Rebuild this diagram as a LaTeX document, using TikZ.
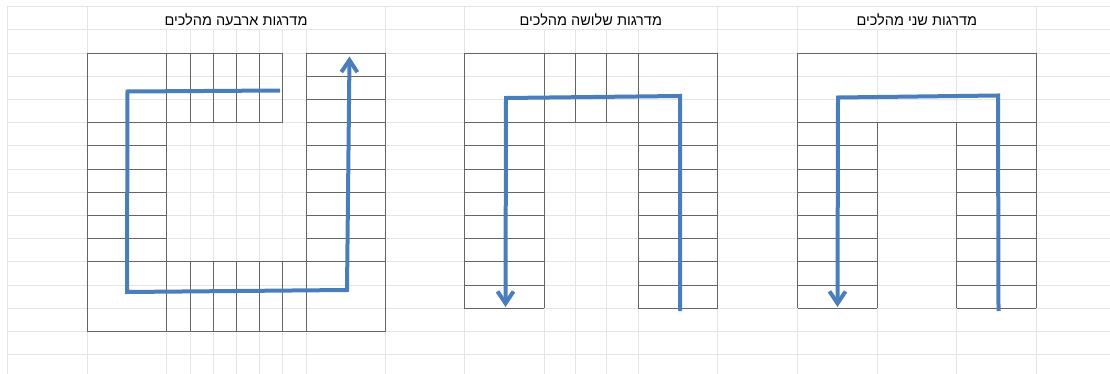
\documentclass[tikz,border=0pt]{standalone}
\usepackage{fontspec}
\newfontfamily\hebfont[Script=Hebrew]{Liberation Sans}
\TeXXeTstate=1
\usetikzlibrary{arrows.meta}
\definecolor{gridc}{RGB}{228,228,228}
\definecolor{cellc}{RGB}{100,100,100}
\definecolor{pathc}{RGB}{74,126,187}

\begin{document}
\begin{tikzpicture}[x=1pt,y=-1pt,
  faint/.style={draw=gridc,line width=0.8pt},
  cell/.style={draw=cellc,line width=0.9pt},
  route/.style={draw=pathc,line width=4pt,line join=miter},
  tip/.style={-{Straight Barb[length=12pt,width=16pt]}},
  title/.style={font=\hebfont\fontsize{14.5}{17}\selectfont,anchor=base,inner sep=0pt}]
\fill[white] (0,0) rectangle (1110,374);
\useasboundingbox (0,0) rectangle (1110,374);
% spreadsheet grid
\foreach \x in {7,87,166,190,213,236,259,282.5,306,385,464,544,575,606.5,638,717.5,797.5,877,956.5,1036}
  \draw[faint] (\x,6.6) -- (\x,374);
\foreach \k in {0,...,15}
  \draw[faint] (7,6.6+23.2*\k) -- (1110,6.6+23.2*\k);
% merged title cells
\fill[white] (87.5,7.1) rectangle (384.5,29.4);
\fill[white] (464.5,7.1) rectangle (717,29.4);
\fill[white] (798,7.1) rectangle (1035.5,29.4);
\node[title] (t4) at (236,25.8) {\beginR מדרגות ארבעה מהלכים\endR};
\node[title] (t3) at (590.8,25.8) {\beginR מדרגות שלושה מהלכים\endR};
\node[title] (t2) at (916.8,25.8) {\beginR מדרגות שני מהלכים\endR};

% ---- four flights ----
\draw[cell] (87,53) -- (282.5,53) (306,53) -- (385,53);
\draw[cell] (87,53) -- (87,331.4) -- (385,331.4) -- (385,53);
\foreach \x in {166,306} \draw[cell] (\x,53) -- (\x,331.4);
\foreach \x in {190,213,236,259,282.5} {
  \draw[cell] (\x,53) -- (\x,122.6);
  \draw[cell] (\x,261.8) -- (\x,331.4);
}
\draw[cell] (87,122.6) -- (282.5,122.6);
\foreach \y in {76.2,99.4,122.6} \draw[cell] (306,\y) -- (385,\y);
\foreach \y in {145.8,169,192.2,215.4,238.6} {
  \draw[cell] (87,\y) -- (166,\y);
  \draw[cell] (306,\y) -- (385,\y);
}
\draw[cell] (87,261.8) -- (385,261.8);

% ---- three flights ----
\draw[cell] (464,53) rectangle (717.5,122.6);
\foreach \x in {544,575,606.5,638} \draw[cell] (\x,53) -- (\x,122.6);
\foreach \x in {464,544,638,717.5} \draw[cell] (\x,122.6) -- (\x,308.2);
\foreach \y in {145.8,169,192.2,215.4,238.6,261.8,285,308.2} {
  \draw[cell] (464,\y) -- (544,\y);
  \draw[cell] (638,\y) -- (717.5,\y);
}

% ---- two flights ----
\draw[cell] (797.5,53) rectangle (1036,122.6);
\foreach \x in {797.5,877,956.5,1036} \draw[cell] (\x,122.6) -- (\x,308.2);
\foreach \y in {145.8,169,192.2,215.4,238.6,261.8,285,308.2} {
  \draw[cell] (797.5,\y) -- (877,\y);
  \draw[cell] (956.5,\y) -- (1036,\y);
}

% ---- walking lines ----
\coordinate (a0) at (280,90.5);
\coordinate (a1) at (127.5,91.5);
\coordinate (a2) at (127,292);
\coordinate (a3) at (347,290);
\coordinate (a4) at (349.5,56.5);
\draw[route,tip] (a0) -- (a1) -- (a2) -- (a3) -- (a4);

\coordinate (b0) at (680,311);
\coordinate (b1) at (680,96);
\coordinate (b2) at (506,98);
\coordinate (b3) at (505.5,307);
\draw[route,tip] (b0) -- (b1) -- (b2) -- (b3);

\coordinate (c0) at (998.5,311);
\coordinate (c1) at (998,95.5);
\coordinate (c2) at (838,97.5);
\coordinate (c3) at (837.5,307);
\draw[route,tip] (c0) -- (c1) -- (c2) -- (c3);
\end{tikzpicture}
\end{document}
